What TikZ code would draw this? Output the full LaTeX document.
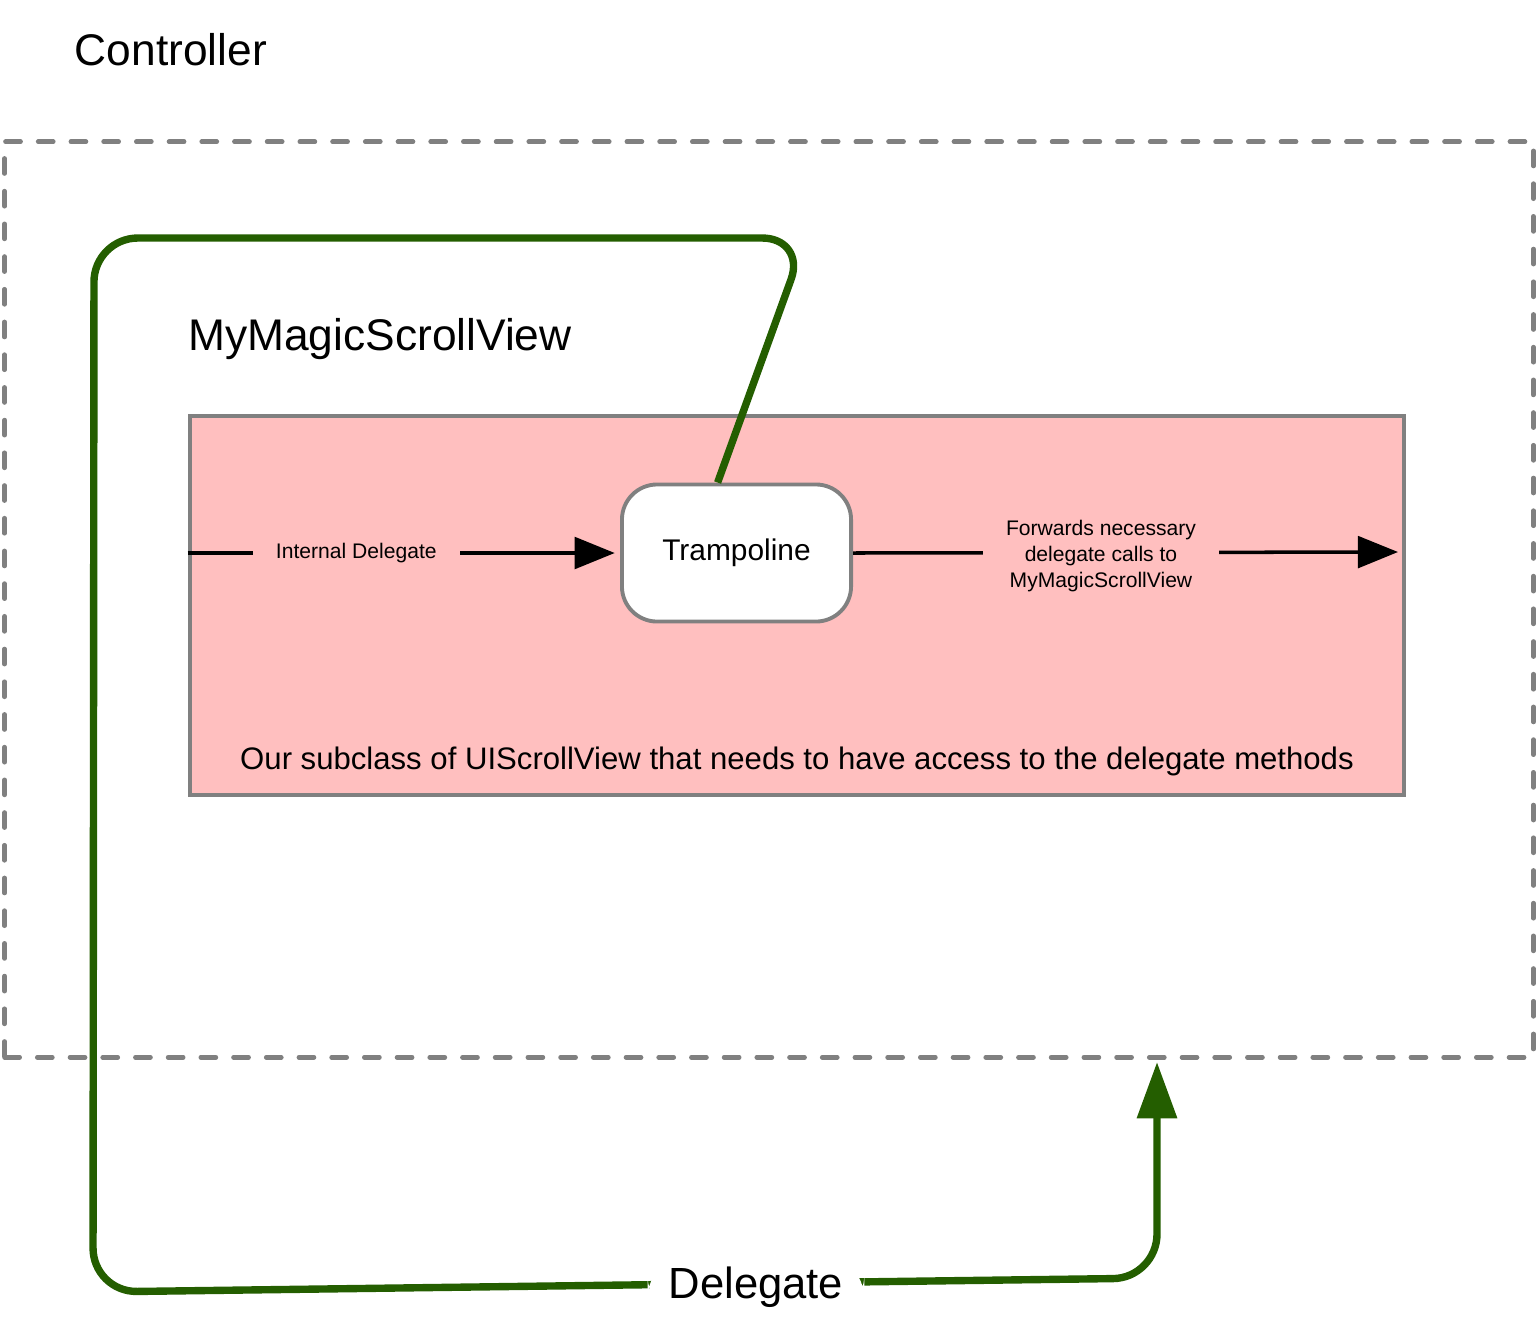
\documentclass[tikz,border=0pt]{standalone}
\usepackage{fontspec}
\setmainfont{Liberation Sans}
\usetikzlibrary{arrows.meta}
\definecolor{pinkfill}{HTML}{FFBFBF}
\definecolor{boxgray}{HTML}{808080}
\definecolor{delgreen}{HTML}{245E00}
\begin{document}
\begin{tikzpicture}[x=0.01cm, y=-0.01cm, line width=1pt,
	title/.style={font=\fontsize{12.6}{15}\selectfont},
	small/.style={font=\fontsize{6}{7.3}\selectfont, fill=pinkfill, inner xsep=6.5pt, align=center},
	flow/.style={draw=black, -{Triangle[length=11.4pt, width=9pt]}},
	green/.style={draw=delgreen, line width=2.1pt, rounded corners=12.5pt, -{Triangle[length=16pt, width=11pt]}}]
	\useasboundingbox (0,0) rectangle (1537,1333);

	\node[title] (controller) at (171,50) {Controller};
	\node[draw=boxgray, line width=1.3pt, dash pattern=on 4.3pt off 5pt, line cap=round, minimum width=15.28cm, minimum height=9.15cm] (ctrl) at (769,599.5) {};

	\node[title] (scrollname) at (380,339) {MyMagicScrollView};
	\node[draw=boxgray, line width=1.1pt, fill=pinkfill, minimum width=12.14cm, minimum height=3.79cm] (magic) at (797,605.5) {};
	\node[font=\fontsize{8.85}{11}\selectfont] (subclass) at (797,761) {Our subclass of UIScrollView that needs to have access to the delegate methods};

	\node[draw=boxgray, line width=1.1pt, fill=white, rounded corners=10pt, minimum width=2.29cm, minimum height=1.37cm, font=\fontsize{8.5}{10}\selectfont] (tramp) at (736.5,553) {Trampoline};
	\coordinate (fwdend) at (1398,552);
	\coordinate (dend) at (1157,1062);

	\draw[flow, shorten >=1.5pt] (magic.west |- tramp.west) to node[small, pos=0.39] {Internal Delegate} (tramp.west);
	\draw[flow] (tramp.east) to node[small, pos=0.455, yshift=-1pt] {Forwards necessary\\delegate calls to\\MyMagicScrollView} (fwdend);

	\draw[green] (tramp.105) -- (806,238) -- (94,238) -- (93,1292)
		-- node[pos=0.623, fill=white, inner xsep=6pt, yshift=-1pt, font=\fontsize{12.4}{15}\selectfont] {Delegate} (1157,1278) -- (dend);
\end{tikzpicture}
\end{document}
